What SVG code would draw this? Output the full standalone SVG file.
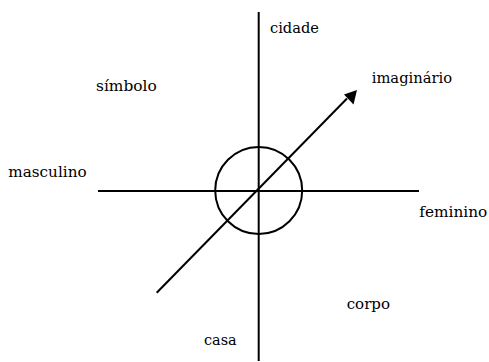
<svg xmlns="http://www.w3.org/2000/svg" width="489" height="362" viewBox="0 0 489 362">
<style>
.ln{stroke:#000;stroke-width:2;fill:none}
.t{font-family:"DejaVu Serif","Liberation Serif",serif;font-size:14.5px;fill:#000}
</style>
<rect width="489" height="362" fill="#fff"/>
<g id="connectors">
<line class="ln" x1="258.7" y1="12" x2="258.7" y2="361"/>
<line class="ln" x1="98" y1="191" x2="419" y2="191"/>
<line class="ln" x1="156.7" y1="292.7" x2="347" y2="98.5"/>
<polygon points="357,90 344,94.5 353.5,104.5" fill="#000"/>
</g>
<g id="circle"><circle class="ln" cx="258.7" cy="190.5" r="43.5"/></g>
<g id="cidade"><text class="t" x="270" y="33" textLength="49" lengthAdjust="spacingAndGlyphs">cidade</text></g>
<g id="imaginario"><text class="t" x="371.7" y="83" textLength="80.5" lengthAdjust="spacingAndGlyphs">imaginário</text></g>
<g id="simbolo"><text class="t" x="96" y="91" textLength="60.7" lengthAdjust="spacingAndGlyphs">símbolo</text></g>
<g id="masculino"><text class="t" x="8.3" y="177.3" textLength="78.3" lengthAdjust="spacingAndGlyphs">masculino</text></g>
<g id="feminino"><text class="t" x="419.3" y="216.7" textLength="68" lengthAdjust="spacingAndGlyphs">feminino</text></g>
<g id="corpo"><text class="t" x="346.7" y="309.3" textLength="43.3" lengthAdjust="spacingAndGlyphs">corpo</text></g>
<g id="casa"><text class="t" x="204" y="345" textLength="32.7" lengthAdjust="spacingAndGlyphs">casa</text></g>
</svg>
